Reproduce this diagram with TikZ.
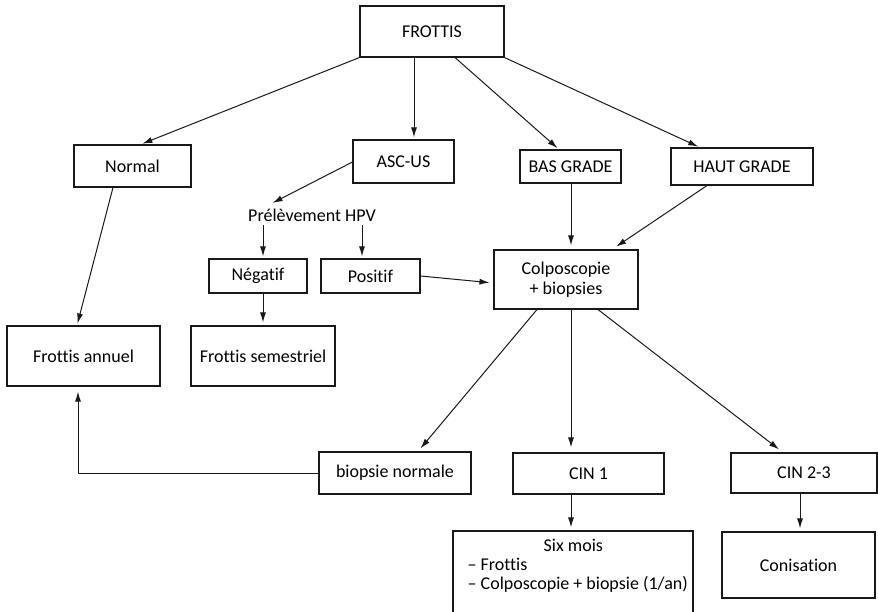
\documentclass[tikz,border=0pt]{standalone}
\usepackage{fontspec}
\setmainfont{Carlito}[Ligatures={NoCommon}]
\usetikzlibrary{arrows.meta,calc}
\begin{document}
\begin{tikzpicture}[x=1pt,y=-1pt,
  box/.style={draw=black!90, line width=1.1pt, inner sep=0pt, align=center, font=\fontsize{18}{20}\selectfont},
  txt/.style={inner sep=0pt, font=\fontsize{18}{20}\selectfont},
  arr/.style={draw=black!90, line width=1pt, -{Latex[length=10pt,width=6pt]}, shorten >=2pt}]
\useasboundingbox (0,0) rectangle (878,612);
\clip (0,0) rectangle (878,612);
\fill[white] (0,0) rectangle (878,612);
% nodes
\node[box, minimum width=144pt, minimum height=51pt] (frottis) at (432,31.5) {FROTTIS};
\node[box, minimum width=117pt, minimum height=42pt] (normal) at (132.5,166) {Normal};
\node[box, minimum width=101pt, minimum height=43pt] (asc) at (403.5,161.5) {ASC-US};
\node[box, minimum width=101pt, minimum height=33pt] (bas) at (570.5,166.5) {BAS GRADE};
\node[box, minimum width=142pt, minimum height=37pt] (haut) at (742,166.5) {HAUT GRADE};
\node[box, minimum width=144pt, minimum height=59pt] (colpo) at (566,279.5) {Colposcopie\\+ biopsies};
\node[txt, minimum height=20pt] (prel) at (312,215) {Prélèvement HPV};
\node[box, minimum width=98pt, minimum height=34pt] (neg) at (258,276) {Négatif};
\node[box, minimum width=99pt, minimum height=34pt] (pos) at (370.5,276) {Positif};
\node[box, minimum width=153pt, minimum height=60pt] (fann) at (83.5,356) {Frottis annuel};
\node[box, minimum width=144pt, minimum height=60pt] (fsem) at (263,356) {Frottis semestriel};
\node[box, minimum width=152pt, minimum height=42pt] (bn) at (395,473) {biopsie normale};
\node[box, minimum width=151pt, minimum height=41pt] (cin1) at (588.5,473.5) {CIN 1};
\node[box, minimum width=146pt, minimum height=40pt] (cin23) at (804,473) {CIN 2-3};
\node[box, minimum width=153pt, minimum height=66pt] (conis) at (798.5,565) {Conisation};
\node[box, minimum width=240pt, minimum height=89pt] (six) at (573,575.5) {};
\node[txt, align=left, anchor=north west, font=\fontsize{18}{19}\selectfont] (sixtxt) at ($(six.north west)+(15,8)$)
  {\hspace*{76pt}Six mois\\– Frottis\\– Colposcopie + biopsie (1/an)};
% connectors
\draw[arr] (frottis.south west) -- ($(normal.north)+(8,0)$);
\coordinate (a2) at ($(asc.north)+(10.5,0)$);
\draw[arr] (frottis.south -| a2) -- (a2);
\draw[arr] ($(frottis.south)+(23,0)$) -- ($(bas.north)+(-11.5,0)$);
\draw[arr] (frottis.south east) -- ($(haut.north)+(-42,0)$);
\draw[arr, shorten >=4pt] ($(asc.west)+(0,0.5)$) -- ($(prel.north)+(-43,0)$);
\coordinate (a6) at ($(neg.north)+(5,0)$);
\draw[arr] (prel.south -| a6) -- (a6);
\coordinate (a7) at ($(pos.north)+(-8.5,0)$);
\draw[arr] (prel.south -| a7) -- (a7);
\draw[arr, shorten >=3pt] (neg.south -| fsem.north) -- (fsem.north);
\draw[arr] ($(normal.south)+(-19.5,0)$) -- ($(fann.north)+(-6.5,0)$);
\draw[arr, shorten >=4pt] (pos.east) -- ($(colpo.west)+(0,3.5)$);
\coordinate (a11) at ($(bas.south)+(0.5,0)$);
\draw[arr, shorten >=4pt] (a11) -- (a11 |- colpo.north);
\draw[arr, shorten >=5pt] ($(haut.south)+(-35,0)$) -- ($(colpo.north)+(46,0)$);
\draw[arr, shorten >=4pt] ($(colpo.south)+(-29,0)$) -- ($(bn.north)+(23,0)$);
\coordinate (a14) at ($(cin1.north)+(-17.5,0)$);
\draw[arr, shorten >=5pt] (colpo.south -| a14) -- (a14);
\draw[arr, shorten >=5pt] ($(colpo.south)+(32,0)$) -- ($(cin23.north)+(-21,0)$);
\draw[arr, shorten >=5pt] (bn.west) -| ($(fann.south)+(-5.5,0)$);
\draw[arr, shorten >=3pt] (cin1.south -| a14) -- (six.north -| a14);
\coordinate (a18) at ($(cin23.south)+(-4,0)$);
\draw[arr, shorten >=3pt] (a18) -- (a18 |- conis.north);
\end{tikzpicture}
\end{document}
